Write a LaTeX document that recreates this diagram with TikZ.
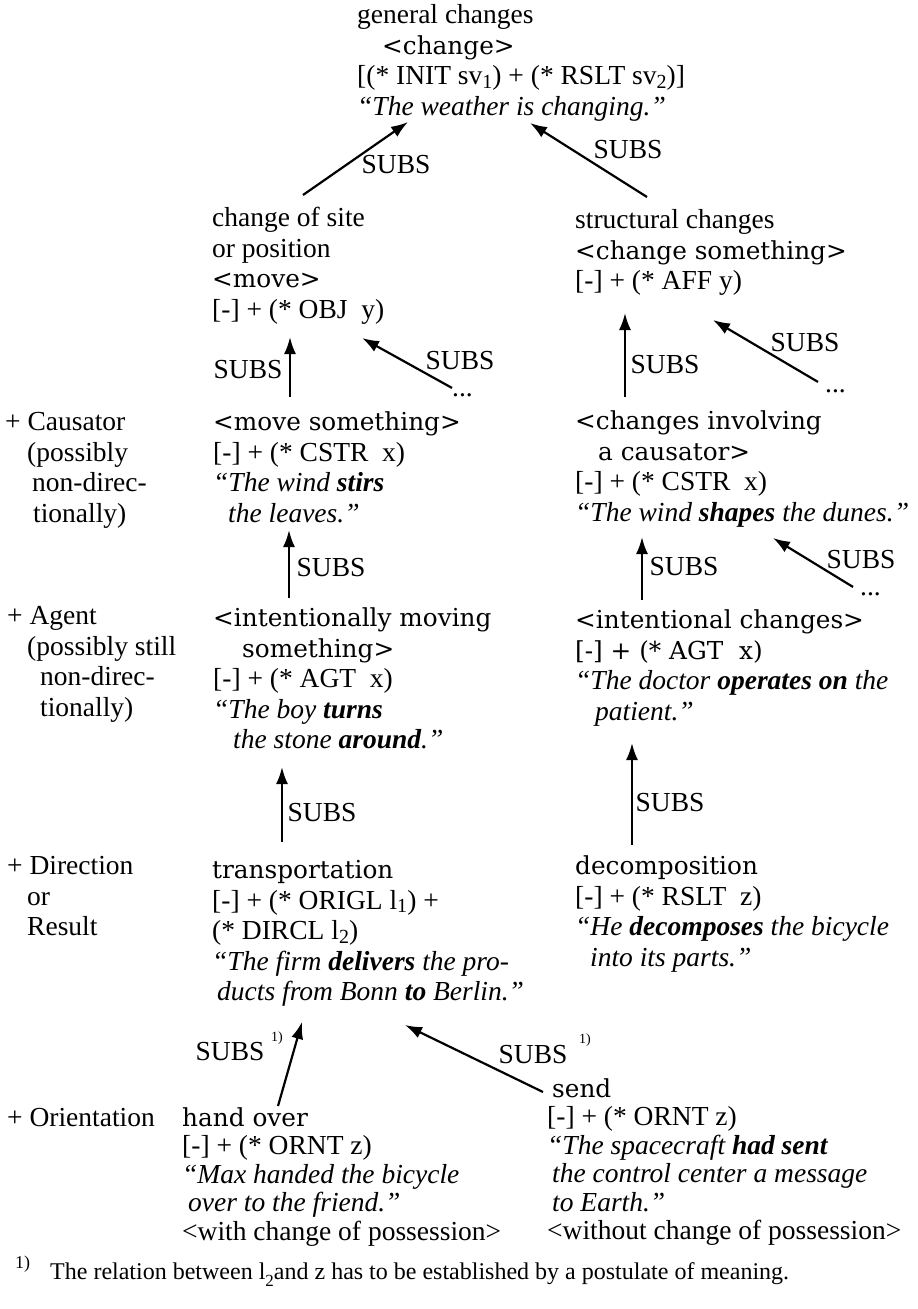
\documentclass[tikz,border=0pt]{standalone}
\usepackage{fontspec}
\setmainfont{Liberation Serif}
\newfontfamily\slabfont[Scale=0.9]{DejaVu Serif}
\usetikzlibrary{arrows.meta,calc}
\newcommand\lowered[1]{\raisebox{-0.3ex}{\fontsize{20}{20}\selectfont #1}}

\begin{document}
\begin{tikzpicture}[x=1pt, y=-1pt, >={Latex[length=17pt,width=12pt]},
    entry/.style={anchor=north west, inner sep=0pt, align=left, font=\fontsize{27.5}{30.5}\selectfont},
    lowentry/.style={entry, font=\fontsize{27.5}{28.5}\selectfont},
    subs/.style={->, line width=2.2pt},
    lbl/.style={inner sep=0pt, font=\fontsize{27.5}{30.5}\selectfont},
    footmark/.style={inner sep=0pt, font=\fontsize{14}{14}\selectfont}]

    \useasboundingbox (0,0) rectangle (918,1309);

    % Top of the hierarchy
    \node[entry] (gen) at (357,2) {\strut general changes\\
        \hspace*{25pt}{\slabfont <change>}\\
        {[}(* INIT sv\lowered{1}) + (* RSLT sv\lowered{2})]\\
        \textit{“The weather is changing.”}};

    % Second level
    \node[entry] (site) at (212,205) {\strut change of site\\ or position\\
        {\slabfont <move>}\\ {[-]} + (* OBJ\ \ y)};
    \node[entry] (struct) at (575,207) {\strut structural changes\\
        {\slabfont <change something>}\\ {[-]} + (* AFF y)};

    % Causator level
    \node[entry] (causator) at (5,409) {\strut + Causator\\ \hspace*{22pt}(possibly\\
        \hspace*{27pt}non-direc-\\ \hspace*{28pt}tionally)};
    \node[entry] (movesth) at (213,409) {\strut {\slabfont <move something>}\\
        {[-]} + (* CSTR\ \ x)\\ \textit{“The wind \textbf{stirs}}\\
        \hspace*{15pt}\textit{the leaves.”}};
    \node[entry] (causal) at (575,408) {\strut {\slabfont <changes involving}\\
        \hspace*{23pt}{\slabfont a causator>}\\ {[-]} + (* CSTR\ \ x)\\
        \textit{“The wind \textbf{shapes} the dunes.”}};

    % Agent level
    \node[entry] (agent) at (7,603) {\strut + Agent\\ \hspace*{20pt}(possibly still\\
        \hspace*{33pt}non-direc-\\ \hspace*{33pt}tionally)};
    \node[entry] (intmove) at (213,605) {\strut {\slabfont <intentionally moving}\\
        \hspace*{29pt}{\slabfont something>}\\ {[-]} + (* AGT\ \ x)\\
        \textit{“The boy \textbf{turns}}\\
        \hspace*{20pt}\textit{the stone \textbf{around}.”}};
    \node[entry] (intchange) at (575,607) {\strut {\slabfont <intentional changes>}\\
        {\slabfont [-] + (* AGT\ \ x)}\\
        \textit{“The doctor \textbf{operates on} the}\\
        \hspace*{20pt}\textit{patient.”}};

    % Direction or result
    \node[entry] (direction) at (7,853) {\strut + Direction\\ \hspace*{20pt}or\\
        \hspace*{20pt}Result};
    \node[entry] (transport) at (212,857) {\strut {\slabfont transportation}\\
        {[-]} + (* ORIGL l\lowered{1}) +\\ (* DIRCL l\lowered{2})\\
        \textit{“The firm \textbf{delivers} the pro-}\\
        \hspace*{5pt}\textit{ducts from Bonn \textbf{to} Berlin.”}};
    \node[entry] (decomp) at (575,853) {\strut {\slabfont decomposition}\\
        {[-]} + (* RSLT\ \ z)\\
        \textit{“He \textbf{decomposes} the bicycle}\\
        \hspace*{15pt}\textit{into its parts.”}};

    % Orientation
    \node[lowentry] (orient) at (7,1106) {\strut + Orientation};
    \node[lowentry] (handover) at (182,1106) {\strut {\slabfont hand over}\\
        {[-]} + (* ORNT z)\\ \textit{“Max handed the bicycle}\\
        \hspace*{6pt}\textit{over to the friend.”}\\
        <with change of possession>};
    \node[lowentry] (send) at (547,1077) {\strut \hspace*{5pt}{\slabfont send}\\
        {[-]} + (* ORNT z)\\ \textit{“The spacecraft \textbf{had sent}}\\
        \hspace*{5pt}\textit{the control center a message}\\
        \hspace*{5pt}\textit{to Earth.”}\\
        <without change of possession>};

    % Open ends
    \node[lbl, anchor=base west] (moreA) at (452,396) {...};
    \node[lbl, anchor=base west] (moreB) at (825,392) {...};
    \node[lbl, anchor=base west] (moreC) at (860,595) {...};

    % SUBS arrows
    \draw[subs] ($(site.north west)+(91,-10)$) -- ($(gen.north west)+(51,120)$);
    \draw[subs] ($(struct.north west)+(72,-10)$) -- ($(gen.north west)+(173,121)$);
    \draw[subs] ($(movesth.north west)+(77,-12)$) -- ($(site.north west)+(78,132)$);
    \draw[subs] ($(moreA.north west)+(0,-5)$) -- ($(site.north west)+(150,133)$);
    \draw[subs] ($(causal.north west)+(50,-11)$) -- ($(struct.north west)+(50,106)$);
    \draw[subs] ($(moreB.north west)+(-7,-7)$) -- ($(struct.north west)+(138,113)$);
    \draw[subs] ($(intmove.north west)+(76,-7)$) -- ($(movesth.north west)+(76,121)$);
    \draw[subs] ($(intchange.north west)+(67,-7)$) -- ($(causal.north west)+(67,129)$);
    \draw[subs] ($(moreC.north west)+(-7,-5)$) -- ($(causal.north west)+(198,130)$);
    \draw[subs] ($(transport.north west)+(70,-15)$) -- ($(intmove.north west)+(69,162)$);
    \draw[subs] ($(decomp.north west)+(57,-8)$) -- ($(intchange.north west)+(57,136)$);
    \draw[subs] ($(handover.north west)+(96,0)$) -- ($(transport.north west)+(90,165)$);
    \draw[subs] ($(send.north west)+(-4,15)$) -- ($(transport.north west)+(193,168)$);

    % SUBS labels
    \node[lbl] (subsA) at (396,165) {SUBS};
    \node[lbl] (subsB) at (628,150) {SUBS};
    \node[lbl] (subsC) at (248,370) {SUBS};
    \node[lbl] (subsD) at (460,361) {SUBS};
    \node[lbl] (subsE) at (665,365) {SUBS};
    \node[lbl] (subsF) at (805,343) {SUBS};
    \node[lbl] (subsG) at (331,568) {SUBS};
    \node[lbl] (subsH) at (684,567) {SUBS};
    \node[lbl] (subsI) at (861,560) {SUBS};
    \node[lbl] (subsJ) at (322,813) {SUBS};
    \node[lbl] (subsK) at (670,803) {SUBS};
    \node[lbl] (subsL) at (230,1052) {SUBS};
    \node[footmark] (markL) at (277,1038) {1)};
    \node[lbl] (subsM) at (533,1055) {SUBS};
    \node[footmark] (markM) at (585,1040) {1)};

    % Footnote
    \node[anchor=base west, inner sep=0pt, font=\fontsize{18}{18}\selectfont] (fnmark) at (15,1268) {1)};
    \node[anchor=base west, inner sep=0pt, font=\fontsize{24}{24}\selectfont] (fntext) at (50,1279)
        {The relation between l\raisebox{-7pt}{\fontsize{17}{17}\selectfont 2}and z has to be established by a postulate of meaning.};

\end{tikzpicture}
\end{document}
